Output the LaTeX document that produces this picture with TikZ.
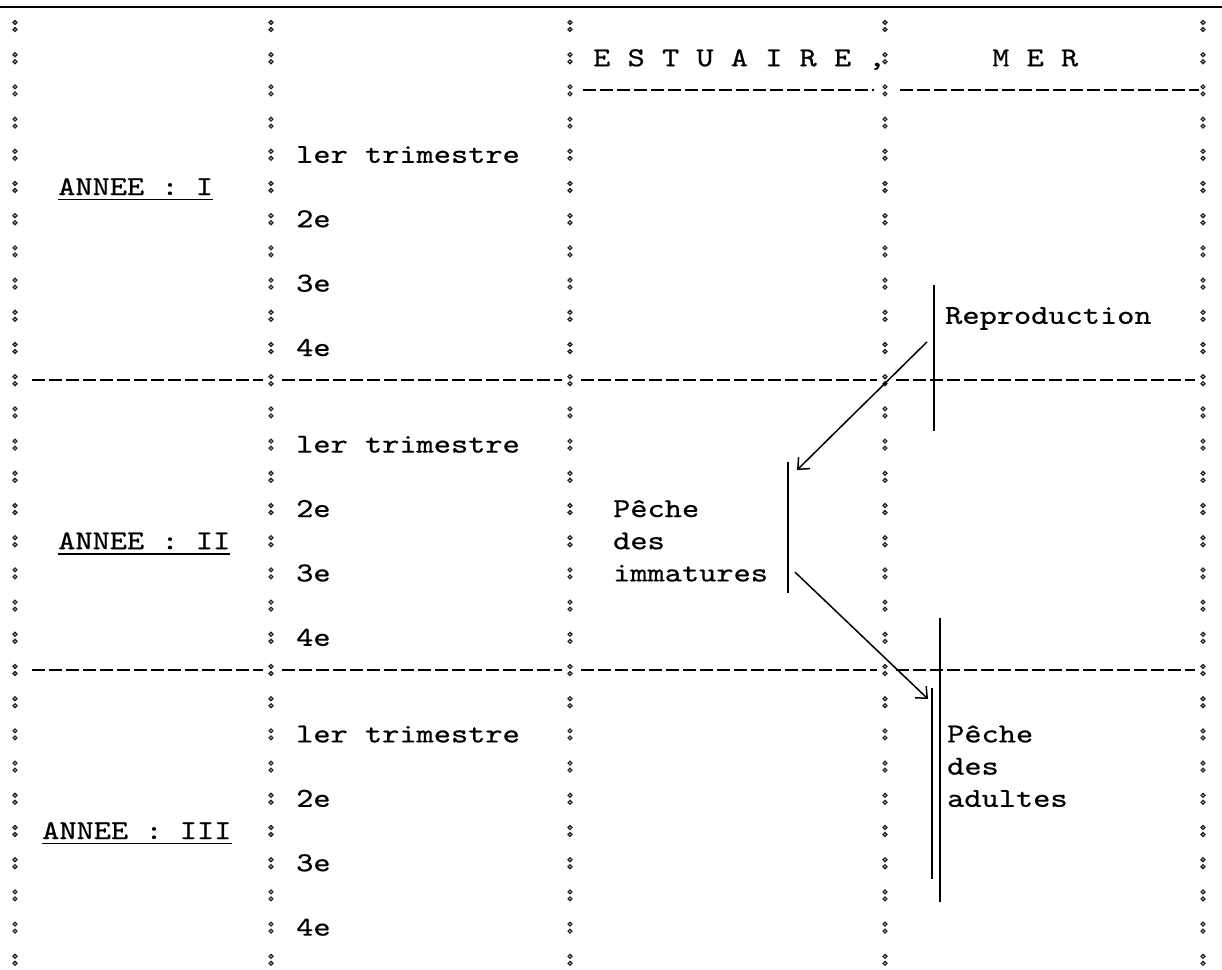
\documentclass[tikz,border=0pt]{standalone}
\usepackage{fontspec}
\newfontfamily\twfont{lmmono10-regular.otf}[FakeStretch=1.2,FakeBold=0.6]
\usetikzlibrary{arrows.meta,calc}
\tikzset{
  tw/.style={font=\twfont\fontsize{27.3}{32}\selectfont,inner sep=0pt,anchor=base west,yshift=-8pt},
  colondot/.style={line width=1.3pt,draw=black!85},
  typedash/.style={line width=2pt,dash pattern=on 13pt off 4pt},
  bracket/.style={line width=1.5pt},
  arr/.style={-{Straight Barb[length=9pt,width=16pt,line width=1.5pt]},line width=1.5pt},
  underl/.style={line width=1.7pt}
}

\begin{document}
\begin{tikzpicture}[x=1pt,y=-32.2pt,shift={(0,-26pt)}]
  \useasboundingbox (0,-0.8075) rectangle (1222,29.2857);

  % typed colons of the five column rules
  \foreach \cx in {15,271,570,885,1203}{
    \foreach \r in {0,...,29}{
      \draw[colondot] (\cx,\r) ++(0,3.5pt) circle[radius=1.9pt]
                      (\cx,\r) ++(0,-3.5pt) circle[radius=1.9pt];
    }
  }

  % rules
  \draw[line width=2.6pt] (0,-0.59) -- (1222,-0.59);
  \draw[typedash] (583,2) -- (874,2);
  \draw[typedash] (900,2) -- (1199,2);
  \foreach \r in {11,20}{
    \draw[typedash] (32,\r) -- (263,\r);
    \draw[typedash] (282,\r) -- (562,\r);
    \draw[typedash] (581,\r) -- (877,\r);
    \draw[typedash] (896,\r) -- (1195,\r);
  }

  % header
  \node[tw] (estuaire) at (593,1) {E S T U A I R E ,};
  \node[tw] (mer) at (992,1) {M E R};

  % years
  \node[tw] (anneeI) at (58,5) {ANNEE : I};
  \node[tw] (anneeII) at (58,16) {ANNEE : II};
  \node[tw] (anneeIII) at (42,25) {ANNEE : III};
  \foreach \n in {anneeI,anneeII,anneeIII}{
    \draw[underl] ($(\n.base west)+(0,-4.5pt)$) -- ($(\n.base east)+(0,-4.5pt)$);
  }

  % quarters
  \foreach \s [count=\b] in {4,13,22}{
    \node[tw] (q\b-1) at (296,\s) {ler trimestre};
    \node[tw] (q\b-2) at (296,\s+2) {2e};
    \node[tw] (q\b-3) at (296,\s+4) {3e};
    \node[tw] (q\b-4) at (296,\s+6) {4e};
  }

  % phases
  \node[tw] (repro) at (945,9) {Reproduction};
  \node[tw] (pimm) at (613,15) {Pêche};
  \node[tw] (dimm) at (613,16) {des};
  \node[tw] (imm) at (613,17) {immatures};
  \node[tw] (padu) at (947,22) {Pêche};
  \node[tw] (dadu) at (947,23) {des};
  \node[tw] (adu) at (947,24) {adultes};

  % brackets
  \coordinate (rtop) at (934,8.04);
  \coordinate (rbot) at (934,12.58);
  \coordinate (itop) at (788,13.54);
  \coordinate (ibot) at (788,17.61);
  \coordinate (atop) at (932,20.56);
  \coordinate (abot) at (932,26.49);
  \coordinate (btop) at (940,18.39);
  \coordinate (bbot) at (940,27.2);
  \draw[bracket] (rtop) -- (rbot);
  \draw[bracket] (itop) -- (ibot);
  \draw[bracket] (atop) -- (abot);
  \draw[bracket] (btop) -- (bbot);

  % arrows
  \coordinate (a1s) at (927,9.81);
  \coordinate (a1e) at (797,13.79);
  \coordinate (a2s) at (795,16.96);
  \coordinate (a2e) at (928,20.9);
  \draw[arr] (a1s) -- (a1e);
  \draw[arr] (a2s) -- (a2e);
\end{tikzpicture}
\end{document}
